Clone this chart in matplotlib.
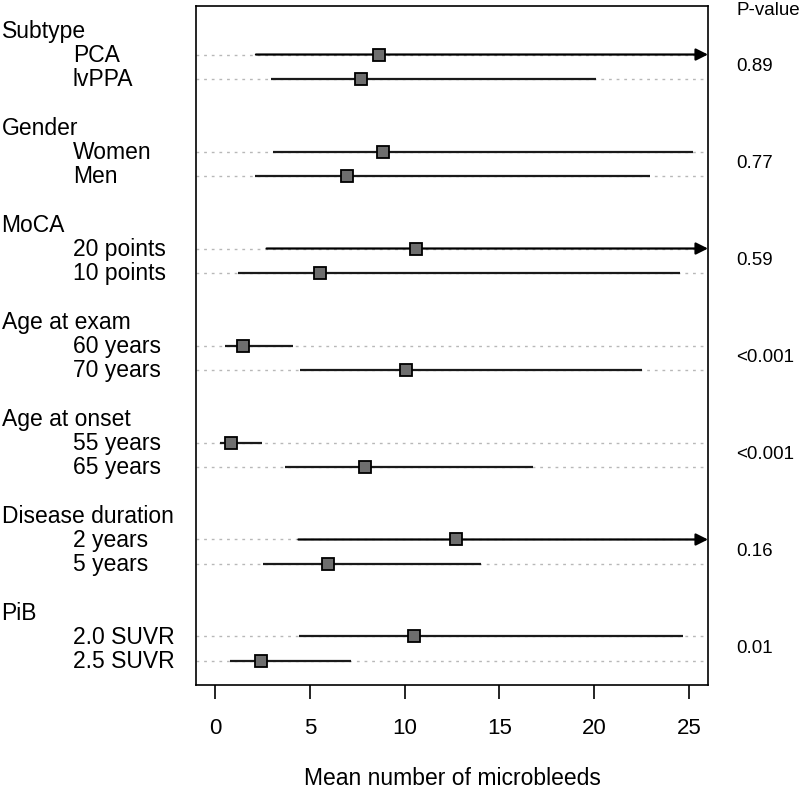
import numpy as np
import matplotlib
matplotlib.use("Agg")
from matplotlib import pyplot as plt
from matplotlib.transforms import blended_transform_factory

plt.rcParams['font.family'] = ['Liberation Sans', 'DejaVu Sans']

# DATA
groups = ["Subtype", "Gender", "MoCA", "Age at exam", "Age at onset",
          "Disease duration", "PiB"]
levels = [["PCA", "lvPPA"], ["Women", "Men"], ["20 points", "10 points"],
          ["60 years", "70 years"], ["55 years", "65 years"],
          ["2 years", "5 years"], ["2.0 SUVR", "2.5 SUVR"]]
means = [[8.67, 7.70], [8.85, 6.97], [10.62, 5.55], [1.49, 10.08],
         [0.83, 7.92], [12.69, 5.97], [10.52, 2.41]]
lowers = [[2.16, 2.94], [3.08, 2.11], [2.72, 1.22], [0.53, 4.49],
          [0.26, 3.71], [4.40, 2.53], [4.43, 0.79]]
# None = upper limit beyond the axis (drawn as arrow)
uppers = [[None, 20.1], [25.2, 22.96], [None, 24.5], [4.12, 22.5],
          [2.50, 16.76], [None, 14.02], [24.7, 7.16]]
pvalues = ["0.89", "0.77", "0.59", "<0.001", "<0.001", "0.16", "0.01"]

XMIN, XMAX = -1.0, 26.0

fig = plt.figure(figsize=(8, 7.94), dpi=100)
ax = fig.add_axes([0.245, 0.1373, 0.64, 0.8551])
ax.set_xlim(XMIN, XMAX)
ax.set_ylim(28, 0)

lab = blended_transform_factory(fig.transFigure, ax.transData)

for g, name in enumerate(groups):
    head_row = 4 * g + 1
    fig.text(0.002, head_row + 0.05, name, transform=lab, fontsize=16.5,
             va='center', ha='left')
    for k in range(2):
        row = head_row + 1 + k
        ax.plot([XMIN, XMAX], [row, row], color='#b8b8b8', lw=1.0,
                dashes=(2, 3.5), zorder=1)
        fig.text(0.091, row + 0.05, levels[g][k], transform=lab, fontsize=16.5,
                 va='center', ha='left')
        lo = lowers[g][k]
        up = uppers[g][k]
        if up is None:
            ax.annotate('', xy=(XMAX, row), xytext=(lo, row),
                        arrowprops=dict(arrowstyle='-|>', color='black',
                                        lw=1.6, mutation_scale=18,
                                        shrinkA=0, shrinkB=0),
                        zorder=2)
        else:
            ax.plot([lo, up], [row, row], color='#1a1a1a', lw=1.6,
                    solid_capstyle='butt', zorder=2)
        ax.plot(means[g][k], row, marker='s', markersize=8,
                markerfacecolor='#6e6e6e', markeredgecolor='black',
                markeredgewidth=1.3, zorder=3)
    fig.text(0.92, head_row + 1.5, pvalues[g], transform=lab, fontsize=13.5,
             va='center', ha='left')

fig.text(0.92, 0.987, "P-value", fontsize=13.5, va='center', ha='left')

ax.set_yticks([])
ax.set_xticks([0, 5, 10, 15, 20, 25])
ax.tick_params(axis='x', length=10, width=1.2, pad=14, labelsize=16)
for s in ax.spines.values():
    s.set_linewidth(1.2)
ax.set_xlabel("Mean number of microbleeds", fontsize=16.5, labelpad=20)

fig.savefig("out.png", dpi=100)
